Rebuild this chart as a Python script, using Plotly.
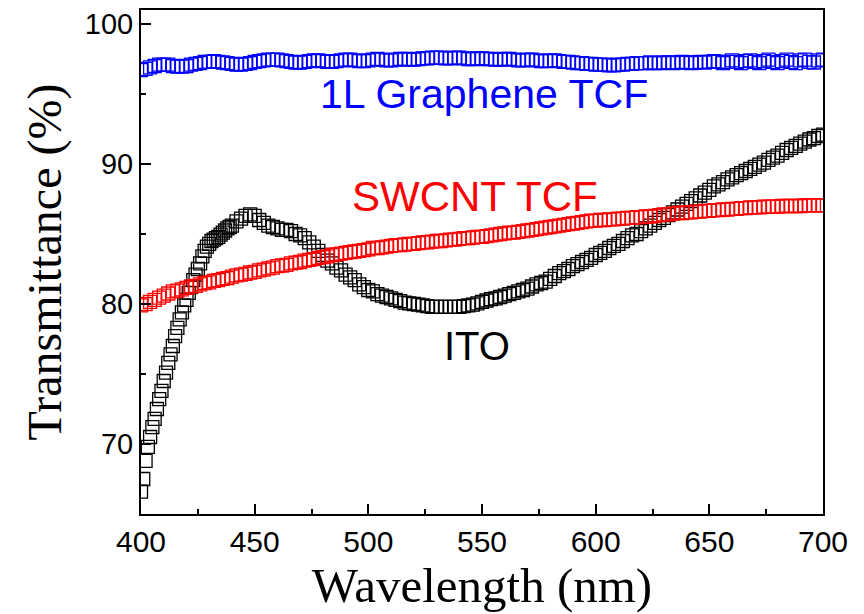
import plotly.graph_objects as go

wavelength = list(range(400, 701, 2))
ito_wavelength = list(range(400, 440)) + list(range(440, 701, 2))

ito = [66.6, 67.5, 68.8, 69.8, 70.5, 71.2, 71.8, 72.5, 73.2, 73.8,
       74.5, 75.1, 75.8, 76.4, 77.0, 77.7, 78.3, 78.9, 79.4, 79.9,
       80.3, 80.8, 81.2, 81.7, 82.1, 82.5, 82.9, 83.4, 83.8, 84.1,
       84.3, 84.5, 84.6, 84.7, 84.8, 84.95, 85.1, 85.25, 85.4, 85.5,
       85.6, 85.9, 86.1, 86.3, 86.4, 86.3, 86.0, 85.8, 85.6, 85.5,
       85.4, 85.3, 85.3, 85.2, 85.0, 84.9, 84.7, 84.4, 84.1, 83.8,
       83.5, 83.1, 82.9, 82.6, 82.4, 82.1, 81.9, 81.7, 81.4, 81.2,
       81.0, 80.9, 80.7, 80.6, 80.5, 80.4, 80.3, 80.2, 80.1, 80.05,
       80.0, 79.95, 79.9, 79.85, 79.8, 79.8, 79.8, 79.8, 79.8, 79.8,
       79.8, 79.85, 79.9, 79.95, 80.05, 80.15, 80.25, 80.35, 80.4, 80.5,
       80.6, 80.7, 80.8, 80.9, 81.0, 81.1, 81.25, 81.4, 81.5, 81.6,
       81.8, 82.0, 82.2, 82.35, 82.5, 82.7, 82.85, 83.0, 83.15, 83.3,
       83.5, 83.65, 83.8, 84.0, 84.15, 84.3, 84.5, 84.7, 84.9, 85.0,
       85.2, 85.4, 85.6, 85.8, 86.0, 86.15, 86.35, 86.55, 86.75, 86.95,
       87.15, 87.35, 87.55, 87.75, 87.95, 88.15, 88.4, 88.55, 88.7, 88.9,
       89.05, 89.2, 89.35, 89.5, 89.65, 89.8, 89.95, 90.1, 90.3, 90.45,
       90.6, 90.8, 91.0, 91.15, 91.3, 91.45, 91.6, 91.75, 91.85, 92.0,
       92.1]

swcnt = [79.9, 80.0, 80.15, 80.3, 80.45, 80.6, 80.75, 80.9, 80.95, 81.05,
         81.15, 81.25, 81.3, 81.4, 81.5, 81.55, 81.65, 81.7, 81.8, 81.85,
         81.95, 82.05, 82.1, 82.15, 82.25, 82.3, 82.4, 82.45, 82.55, 82.6,
         82.7, 82.75, 82.8, 82.9, 82.95, 83.0, 83.1, 83.15, 83.2, 83.3,
         83.35, 83.4, 83.5, 83.55, 83.6, 83.65, 83.7, 83.75, 83.8, 83.85,
         83.9, 84.0, 84.0, 84.05, 84.1, 84.15, 84.2, 84.2, 84.25, 84.3,
         84.3, 84.35, 84.4, 84.4, 84.45, 84.5, 84.5, 84.55, 84.6, 84.6,
         84.65, 84.7, 84.7, 84.75, 84.8, 84.8, 84.85, 84.9, 84.95, 85.0,
         85.05, 85.1, 85.1, 85.15, 85.2, 85.25, 85.3, 85.35, 85.4, 85.45,
         85.5, 85.55, 85.6, 85.65, 85.7, 85.75, 85.8, 85.85, 85.9, 85.95,
         85.95, 86.0, 86.0, 86.05, 86.05, 86.1, 86.1, 86.15, 86.15, 86.2,
         86.2, 86.25, 86.25, 86.3, 86.35, 86.4, 86.4, 86.45, 86.5, 86.5,
         86.55, 86.55, 86.6, 86.6, 86.65, 86.65, 86.7, 86.7, 86.75, 86.75,
         86.8, 86.8, 86.85, 86.85, 86.9, 86.9, 86.9, 86.95, 86.95, 86.95,
         86.95, 87.0, 87.0, 87.0, 87.0, 87.0, 87.05, 87.05, 87.05, 87.05,
         87.05]

graphene = [96.7, 96.8, 96.9, 97.0, 97.1, 97.1, 97.1, 97.0, 96.95, 96.95,
            97.0, 97.1, 97.15, 97.2, 97.3, 97.3, 97.35, 97.3, 97.25, 97.2,
            97.15, 97.1, 97.1, 97.15, 97.2, 97.3, 97.35, 97.4, 97.45, 97.45,
            97.45, 97.4, 97.35, 97.3, 97.25, 97.25, 97.3, 97.35, 97.4, 97.4,
            97.35, 97.3, 97.3, 97.35, 97.4, 97.45, 97.45, 97.4, 97.35, 97.35,
            97.4, 97.45, 97.5, 97.45, 97.4, 97.4, 97.45, 97.5, 97.5, 97.45,
            97.45, 97.5, 97.55, 97.55, 97.6, 97.6, 97.6, 97.55, 97.55, 97.6,
            97.6, 97.55, 97.5, 97.5, 97.55, 97.55, 97.5, 97.5, 97.45, 97.45,
            97.5, 97.5, 97.45, 97.4, 97.4, 97.45, 97.45, 97.4, 97.35, 97.35,
            97.4, 97.4, 97.35, 97.3, 97.3, 97.25, 97.2, 97.2, 97.15, 97.15,
            97.1, 97.1, 97.1, 97.05, 97.05, 97.1, 97.1, 97.15, 97.15, 97.2,
            97.2, 97.2, 97.25, 97.2, 97.2, 97.25, 97.25, 97.2, 97.25, 97.3,
            97.25, 97.2, 97.25, 97.3, 97.25, 97.3, 97.35, 97.3, 97.2, 97.3,
            97.4, 97.3, 97.2, 97.35, 97.4, 97.3, 97.2, 97.35, 97.45, 97.3,
            97.2, 97.35, 97.45, 97.3, 97.2, 97.4, 97.45, 97.3, 97.25, 97.4,
            97.45]

x_ticks = [400, 450, 500, 550, 600, 650, 700]
y_ticks = [70, 80, 90, 100]

labels = ["1L Graphene TCF", "SWCNT TCF", "ITO"]
label_x = [551, 547, 548]
label_y = [95.0, 87.7, 77.0]
label_colors = ["#0000FF", "#FF0000", "#000000"]
label_sizes = [41, 42, 40]

fig = go.Figure()

series = [("ITO", ito_wavelength, ito, "#000000"),
          ("SWCNT TCF", wavelength, swcnt, "#FF0000"),
          ("1L Graphene TCF", wavelength, graphene, "#0000FF")]
for name, xs, vals, col in series:
    fig.add_trace(go.Scatter(
        x=xs, y=vals, mode="markers", name=name,
        marker=dict(symbol="square-open", size=13, color=col,
                    line=dict(width=1.3, color=col)),
        showlegend=False))

for t, lx, ly, c, s in zip(labels, label_x, label_y, label_colors, label_sizes):
    fig.add_annotation(x=lx, y=ly, text=t, showarrow=False,
                       font=dict(family="Liberation Sans, Arial", size=s, color=c),
                       xanchor="center", yanchor="middle")

axis_common = dict(showline=True, linecolor="black", linewidth=2, mirror=True,
                   ticks="inside", ticklen=10, tickwidth=2, tickcolor="black",
                   showgrid=False, zeroline=False, automargin=False)

fig.update_xaxes(range=[400, 700], tickvals=x_ticks,
                 tickfont=dict(family="Liberation Sans, Arial", size=30, color="black"),
                 minor=dict(ticks="inside", ticklen=5, tickwidth=2, tickcolor="black", dtick=25, tick0=400),
                 title=dict(text="Wavelength (nm)",
                            font=dict(family="Liberation Serif, Times New Roman", size=49, color="black"),
                            standoff=4),
                 **axis_common)
fig.update_yaxes(range=[65, 101], tickvals=y_ticks,
                 tickfont=dict(family="Liberation Sans, Arial", size=29, color="black"),
                 minor=dict(ticks="inside", ticklen=5, tickwidth=2, tickcolor="black", dtick=5, tick0=65),
                 title=dict(text="Transmittance (%)",
                            font=dict(family="Liberation Serif, Times New Roman", size=48, color="black"),
                            standoff=8),
                 **axis_common)

fig.update_layout(width=864, height=614,
                  margin=dict(l=133, r=49, t=2, b=108),
                  plot_bgcolor="white", paper_bgcolor="white")

fig.write_html("out.html")
